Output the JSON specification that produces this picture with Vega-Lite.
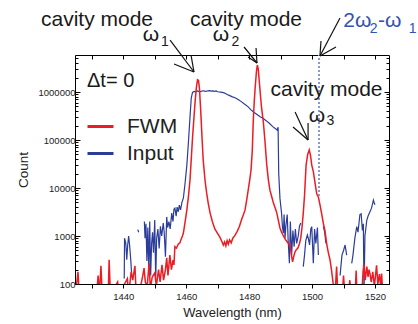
{
  "$schema": "https://vega.github.io/schema/vega-lite/v6.json",
  "width": 314,
  "height": 229,
  "autosize": {"type": "none"},
  "padding": {"left": 75, "top": 55, "right": 29, "bottom": 40},
  "background": "white",
  "config": {
    "view": {"stroke": null},
    "font": "Liberation Sans",
    "axis": {"domainColor": "#000", "domainWidth": 1, "tickColor": "#000", "tickWidth": 1, "labelFont": "Liberation Sans", "labelColor": "#222", "labelFontSize": 9.5, "titleFont": "Liberation Sans", "titleFontWeight": "normal", "titleColor": "#222", "grid": false, "labelOverlap": false}
  },
  "datasets": {
    "spectra": [
      {"series":"Input","wavelength":1440.3,"count":130},{"series":"Input","wavelength":1440.4,"count":900},{"series":"Input","wavelength":1440.8,"count":700},{"series":"Input","wavelength":1441.1,"count":320},{"series":"Input","wavelength":1441.4,"count":650},{"series":"Input","wavelength":1441.7,"count":1000},{"series":"Input","wavelength":1442.0,"count":650},{"series":"Input","wavelength":1442.4,"count":300},{"series":"Input","wavelength":1442.7,"count":140},
      {"series":"Input","wavelength":1443.6,"count":null},
      {"series":"Input","wavelength":1444.6,"count":1360},{"series":"Input","wavelength":1444.9,"count":1200},
      {"series":"Input","wavelength":1445.8,"count":null},
      {"series":"Input","wavelength":1446.7,"count":2000},{"series":"Input","wavelength":1446.9,"count":900},{"series":"Input","wavelength":1447.2,"count":1800},{"series":"Input","wavelength":1447.5,"count":300},{"series":"Input","wavelength":1447.8,"count":1500},{"series":"Input","wavelength":1448.1,"count":180},{"series":"Input","wavelength":1448.4,"count":2000},{"series":"Input","wavelength":1448.7,"count":150},{"series":"Input","wavelength":1449.0,"count":700},{"series":"Input","wavelength":1449.3,"count":1200},{"series":"Input","wavelength":1449.6,"count":450},{"series":"Input","wavelength":1450.0,"count":2150},{"series":"Input","wavelength":1450.3,"count":120},{"series":"Input","wavelength":1450.6,"count":900},{"series":"Input","wavelength":1451.0,"count":1400},{"series":"Input","wavelength":1451.4,"count":550},{"series":"Input","wavelength":1451.8,"count":1600},{"series":"Input","wavelength":1452.2,"count":1000},{"series":"Input","wavelength":1452.7,"count":1870},{"series":"Input","wavelength":1453.0,"count":1200},{"series":"Input","wavelength":1453.4,"count":370},{"series":"Input","wavelength":1453.8,"count":2500},{"series":"Input","wavelength":1454.1,"count":1500},{"series":"Input","wavelength":1454.5,"count":2000},{"series":"Input","wavelength":1454.9,"count":1400},{"series":"Input","wavelength":1455.4,"count":3000},{"series":"Input","wavelength":1455.8,"count":2000},{"series":"Input","wavelength":1456.1,"count":3600},{"series":"Input","wavelength":1456.4,"count":3800},{"series":"Input","wavelength":1456.8,"count":2600},{"series":"Input","wavelength":1457.1,"count":4000},{"series":"Input","wavelength":1457.5,"count":3200},{"series":"Input","wavelength":1457.8,"count":4400},{"series":"Input","wavelength":1458.2,"count":3500},{"series":"Input","wavelength":1458.6,"count":4900},{"series":"Input","wavelength":1459.1,"count":6200},{"series":"Input","wavelength":1459.6,"count":12000},{"series":"Input","wavelength":1460.2,"count":30000},{"series":"Input","wavelength":1460.7,"count":90000},{"series":"Input","wavelength":1461.2,"count":300000},{"series":"Input","wavelength":1461.6,"count":750000},{"series":"Input","wavelength":1462.0,"count":980000},{"series":"Input","wavelength":1462.5,"count":1030000},{"series":"Input","wavelength":1463.0,"count":1010000},{"series":"Input","wavelength":1463.5,"count":1050000},{"series":"Input","wavelength":1464.0,"count":1030000},{"series":"Input","wavelength":1464.5,"count":1020000},{"series":"Input","wavelength":1465.0,"count":1050000},{"series":"Input","wavelength":1465.5,"count":1060000},{"series":"Input","wavelength":1466.0,"count":1030000},{"series":"Input","wavelength":1466.5,"count":1040000},{"series":"Input","wavelength":1467.0,"count":1060000},{"series":"Input","wavelength":1467.5,"count":1070000},{"series":"Input","wavelength":1468.0,"count":1040000},{"series":"Input","wavelength":1468.5,"count":1050000},{"series":"Input","wavelength":1469.0,"count":1030000},{"series":"Input","wavelength":1469.5,"count":1050000},{"series":"Input","wavelength":1470.0,"count":1010000},{"series":"Input","wavelength":1470.5,"count":1000000},{"series":"Input","wavelength":1471.0,"count":990000},{"series":"Input","wavelength":1471.5,"count":980000},{"series":"Input","wavelength":1472.0,"count":960000},{"series":"Input","wavelength":1472.5,"count":930000},{"series":"Input","wavelength":1473.0,"count":890000},{"series":"Input","wavelength":1473.5,"count":860000},{"series":"Input","wavelength":1474.0,"count":830000},{"series":"Input","wavelength":1474.5,"count":800000},{"series":"Input","wavelength":1475.5,"count":760000},{"series":"Input","wavelength":1476.5,"count":700000},{"series":"Input","wavelength":1477.5,"count":630000},{"series":"Input","wavelength":1478.5,"count":560000},{"series":"Input","wavelength":1479.7,"count":490000},{"series":"Input","wavelength":1480.5,"count":430000},{"series":"Input","wavelength":1481.5,"count":380000},{"series":"Input","wavelength":1482.5,"count":340000},{"series":"Input","wavelength":1483.5,"count":305000},{"series":"Input","wavelength":1484.5,"count":280000},{"series":"Input","wavelength":1485.5,"count":250000},{"series":"Input","wavelength":1486.5,"count":220000},{"series":"Input","wavelength":1487.5,"count":190000},{"series":"Input","wavelength":1488.5,"count":170000},{"series":"Input","wavelength":1488.9,"count":160000},{"series":"Input","wavelength":1489.2,"count":185000},{"series":"Input","wavelength":1489.4,"count":20000},{"series":"Input","wavelength":1489.8,"count":6000},{"series":"Input","wavelength":1490.3,"count":3000},{"series":"Input","wavelength":1490.6,"count":1500},{"series":"Input","wavelength":1490.9,"count":1150},{"series":"Input","wavelength":1491.1,"count":2800},{"series":"Input","wavelength":1491.4,"count":900},{"series":"Input","wavelength":1491.7,"count":1700},{"series":"Input","wavelength":1492.1,"count":2800},{"series":"Input","wavelength":1492.4,"count":800},{"series":"Input","wavelength":1492.8,"count":270},{"series":"Input","wavelength":1493.1,"count":2000},{"series":"Input","wavelength":1493.5,"count":400},{"series":"Input","wavelength":1493.9,"count":1300},{"series":"Input","wavelength":1494.3,"count":600},{"series":"Input","wavelength":1494.7,"count":1400},{"series":"Input","wavelength":1495.1,"count":700},{"series":"Input","wavelength":1495.6,"count":1000},{"series":"Input","wavelength":1496.0,"count":1600},{"series":"Input","wavelength":1496.4,"count":1870},
      {"series":"Input","wavelength":1496.8,"count":null},
      {"series":"Input","wavelength":1497.2,"count":230},{"series":"Input","wavelength":1497.6,"count":400},{"series":"Input","wavelength":1498.0,"count":800},{"series":"Input","wavelength":1498.5,"count":1050},{"series":"Input","wavelength":1498.8,"count":900},{"series":"Input","wavelength":1499.2,"count":650},{"series":"Input","wavelength":1499.6,"count":1400},{"series":"Input","wavelength":1499.9,"count":1570},{"series":"Input","wavelength":1500.4,"count":270},{"series":"Input","wavelength":1500.8,"count":1400},{"series":"Input","wavelength":1501.2,"count":700},{"series":"Input","wavelength":1501.7,"count":1500},{"series":"Input","wavelength":1502.0,"count":400},
      {"series":"Input","wavelength":1502.8,"count":null},
      {"series":"Input","wavelength":1503.6,"count":1570},{"series":"Input","wavelength":1504.0,"count":1200},{"series":"Input","wavelength":1504.4,"count":700},
      {"series":"Input","wavelength":1506.5,"count":null},
      {"series":"Input","wavelength":1508.9,"count":150},{"series":"Input","wavelength":1509.5,"count":400},{"series":"Input","wavelength":1510.0,"count":500},{"series":"Input","wavelength":1510.5,"count":650},{"series":"Input","wavelength":1511.0,"count":400},
      {"series":"Input","wavelength":1511.8,"count":null},
      {"series":"Input","wavelength":1512.6,"count":270},{"series":"Input","wavelength":1513.0,"count":400},{"series":"Input","wavelength":1513.6,"count":900},{"series":"Input","wavelength":1514.2,"count":1570},{"series":"Input","wavelength":1514.6,"count":1200},{"series":"Input","wavelength":1515.2,"count":2800},{"series":"Input","wavelength":1515.6,"count":2900},{"series":"Input","wavelength":1516.0,"count":1300},{"series":"Input","wavelength":1516.3,"count":1800},{"series":"Input","wavelength":1516.5,"count":60},{"series":"Input","wavelength":1516.8,"count":1000},{"series":"Input","wavelength":1517.4,"count":2150},{"series":"Input","wavelength":1517.8,"count":2600},{"series":"Input","wavelength":1518.4,"count":3200},{"series":"Input","wavelength":1518.9,"count":3800},{"series":"Input","wavelength":1519.5,"count":5600},{"series":"Input","wavelength":1519.8,"count":4800},{"series":"Input","wavelength":1520.0,"count":4500},
      {"series":"FWM","wavelength":1424.8,"count":60},{"series":"FWM","wavelength":1425.6,"count":180},{"series":"FWM","wavelength":1426.0,"count":60},{"series":"FWM","wavelength":1431.5,"count":60},{"series":"FWM","wavelength":1432.0,"count":150},{"series":"FWM","wavelength":1432.4,"count":60},{"series":"FWM","wavelength":1432.9,"count":240},{"series":"FWM","wavelength":1433.3,"count":60},{"series":"FWM","wavelength":1435.2,"count":60},{"series":"FWM","wavelength":1435.5,"count":320},{"series":"FWM","wavelength":1435.9,"count":60},{"series":"FWM","wavelength":1438.2,"count":110},{"series":"FWM","wavelength":1438.6,"count":60},{"series":"FWM","wavelength":1441.3,"count":130},{"series":"FWM","wavelength":1441.7,"count":60},{"series":"FWM","wavelength":1442.5,"count":180},{"series":"FWM","wavelength":1443.0,"count":120},{"series":"FWM","wavelength":1443.7,"count":240},{"series":"FWM","wavelength":1444.1,"count":60},{"series":"FWM","wavelength":1445.5,"count":90},{"series":"FWM","wavelength":1446.2,"count":150},{"series":"FWM","wavelength":1446.6,"count":215},{"series":"FWM","wavelength":1447.0,"count":110},{"series":"FWM","wavelength":1447.6,"count":90},{"series":"FWM","wavelength":1448.2,"count":270},{"series":"FWM","wavelength":1448.6,"count":80},{"series":"FWM","wavelength":1449.2,"count":140},{"series":"FWM","wavelength":1450.0,"count":170},{"series":"FWM","wavelength":1450.5,"count":90},{"series":"FWM","wavelength":1451.2,"count":200},{"series":"FWM","wavelength":1451.7,"count":110},{"series":"FWM","wavelength":1452.3,"count":250},{"series":"FWM","wavelength":1452.8,"count":120},{"series":"FWM","wavelength":1453.4,"count":200},{"series":"FWM","wavelength":1453.8,"count":350},{"series":"FWM","wavelength":1454.2,"count":150},{"series":"FWM","wavelength":1454.8,"count":400},{"series":"FWM","wavelength":1455.3,"count":200},{"series":"FWM","wavelength":1455.8,"count":316},{"series":"FWM","wavelength":1456.1,"count":250},{"series":"FWM","wavelength":1456.4,"count":600},{"series":"FWM","wavelength":1456.9,"count":560},{"series":"FWM","wavelength":1457.5,"count":680},{"series":"FWM","wavelength":1458.0,"count":720},{"series":"FWM","wavelength":1458.3,"count":830},{"series":"FWM","wavelength":1458.8,"count":1000},{"series":"FWM","wavelength":1459.1,"count":1150},{"series":"FWM","wavelength":1459.6,"count":1870},{"series":"FWM","wavelength":1460.2,"count":3500},{"series":"FWM","wavelength":1460.7,"count":6600},{"series":"FWM","wavelength":1461.2,"count":14700},{"series":"FWM","wavelength":1461.6,"count":40000},{"series":"FWM","wavelength":1462.0,"count":110000},{"series":"FWM","wavelength":1462.4,"count":260000},{"series":"FWM","wavelength":1462.8,"count":600000},{"series":"FWM","wavelength":1463.2,"count":1200000},{"series":"FWM","wavelength":1463.6,"count":1800000},{"series":"FWM","wavelength":1463.9,"count":1750000},{"series":"FWM","wavelength":1464.2,"count":1200000},{"series":"FWM","wavelength":1464.6,"count":420000},{"series":"FWM","wavelength":1465.0,"count":120000},{"series":"FWM","wavelength":1465.4,"count":38000},{"series":"FWM","wavelength":1466.0,"count":14000},{"series":"FWM","wavelength":1466.5,"count":7800},{"series":"FWM","wavelength":1467.0,"count":4800},{"series":"FWM","wavelength":1467.6,"count":3000},{"series":"FWM","wavelength":1468.3,"count":2000},{"series":"FWM","wavelength":1469.1,"count":1400},{"series":"FWM","wavelength":1469.9,"count":1150},{"series":"FWM","wavelength":1470.7,"count":950},{"series":"FWM","wavelength":1471.3,"count":780},{"series":"FWM","wavelength":1471.8,"count":650},{"series":"FWM","wavelength":1472.2,"count":750},{"series":"FWM","wavelength":1472.6,"count":620},{"series":"FWM","wavelength":1473.0,"count":800},{"series":"FWM","wavelength":1473.4,"count":680},{"series":"FWM","wavelength":1473.8,"count":830},{"series":"FWM","wavelength":1474.3,"count":720},{"series":"FWM","wavelength":1474.8,"count":900},{"series":"FWM","wavelength":1475.5,"count":1030},{"series":"FWM","wavelength":1476.2,"count":1250},{"series":"FWM","wavelength":1476.9,"count":1570},{"series":"FWM","wavelength":1477.6,"count":2200},{"series":"FWM","wavelength":1478.2,"count":2800},{"series":"FWM","wavelength":1478.7,"count":3500},{"series":"FWM","wavelength":1479.2,"count":5500},{"series":"FWM","wavelength":1479.7,"count":9000},{"series":"FWM","wavelength":1480.2,"count":15000},{"series":"FWM","wavelength":1480.6,"count":23700},{"series":"FWM","wavelength":1481.0,"count":60000},{"series":"FWM","wavelength":1481.3,"count":240000},{"series":"FWM","wavelength":1481.6,"count":600000},{"series":"FWM","wavelength":1481.9,"count":1200000},{"series":"FWM","wavelength":1482.3,"count":2600000},{"series":"FWM","wavelength":1482.6,"count":3650000},{"series":"FWM","wavelength":1482.9,"count":3000000},{"series":"FWM","wavelength":1483.4,"count":1200000},{"series":"FWM","wavelength":1483.9,"count":500000},{"series":"FWM","wavelength":1484.5,"count":240000},{"series":"FWM","wavelength":1485.0,"count":100000},{"series":"FWM","wavelength":1485.6,"count":30000},{"series":"FWM","wavelength":1486.1,"count":15000},{"series":"FWM","wavelength":1486.6,"count":9000},{"series":"FWM","wavelength":1487.2,"count":6500},{"series":"FWM","wavelength":1487.7,"count":4900},{"series":"FWM","wavelength":1488.3,"count":3800},{"series":"FWM","wavelength":1488.8,"count":3000},{"series":"FWM","wavelength":1489.3,"count":2100},{"series":"FWM","wavelength":1489.8,"count":1470},{"series":"FWM","wavelength":1490.3,"count":1200},{"series":"FWM","wavelength":1490.9,"count":1000},{"series":"FWM","wavelength":1491.5,"count":850},{"series":"FWM","wavelength":1492.0,"count":770},{"series":"FWM","wavelength":1492.5,"count":700},{"series":"FWM","wavelength":1493.0,"count":650},{"series":"FWM","wavelength":1493.4,"count":420},{"series":"FWM","wavelength":1493.8,"count":290},{"series":"FWM","wavelength":1494.2,"count":380},{"series":"FWM","wavelength":1494.6,"count":470},{"series":"FWM","wavelength":1495.0,"count":520},{"series":"FWM","wavelength":1495.5,"count":560},{"series":"FWM","wavelength":1496.0,"count":700},{"series":"FWM","wavelength":1496.4,"count":900},{"series":"FWM","wavelength":1496.8,"count":1500},{"series":"FWM","wavelength":1497.2,"count":3000},{"series":"FWM","wavelength":1497.6,"count":7000},{"series":"FWM","wavelength":1498.1,"count":30000},{"series":"FWM","wavelength":1498.6,"count":50000},{"series":"FWM","wavelength":1499.1,"count":62000},{"series":"FWM","wavelength":1499.5,"count":48000},{"series":"FWM","wavelength":1499.9,"count":30000},{"series":"FWM","wavelength":1500.4,"count":22000},{"series":"FWM","wavelength":1501.0,"count":12000},{"series":"FWM","wavelength":1501.5,"count":7500},{"series":"FWM","wavelength":1502.0,"count":6500},{"series":"FWM","wavelength":1502.5,"count":4500},{"series":"FWM","wavelength":1503.1,"count":2800},{"series":"FWM","wavelength":1503.6,"count":1800},{"series":"FWM","wavelength":1504.1,"count":1300},{"series":"FWM","wavelength":1504.7,"count":650},{"series":"FWM","wavelength":1505.2,"count":440},{"series":"FWM","wavelength":1505.7,"count":320},{"series":"FWM","wavelength":1506.2,"count":190},{"series":"FWM","wavelength":1506.8,"count":90},{"series":"FWM","wavelength":1507.3,"count":60},{"series":"FWM","wavelength":1507.8,"count":230},{"series":"FWM","wavelength":1508.2,"count":60},{"series":"FWM","wavelength":1509.6,"count":60},{"series":"FWM","wavelength":1510.0,"count":150},{"series":"FWM","wavelength":1510.4,"count":60},{"series":"FWM","wavelength":1511.5,"count":60},{"series":"FWM","wavelength":1512.0,"count":120},{"series":"FWM","wavelength":1512.4,"count":60},{"series":"FWM","wavelength":1513.7,"count":60},{"series":"FWM","wavelength":1514.0,"count":190},{"series":"FWM","wavelength":1514.3,"count":60},{"series":"FWM","wavelength":1515.8,"count":60},{"series":"FWM","wavelength":1516.2,"count":180},{"series":"FWM","wavelength":1516.5,"count":260},{"series":"FWM","wavelength":1516.9,"count":120},{"series":"FWM","wavelength":1517.4,"count":230},{"series":"FWM","wavelength":1517.8,"count":140},{"series":"FWM","wavelength":1518.1,"count":200},{"series":"FWM","wavelength":1518.4,"count":165},{"series":"FWM","wavelength":1518.8,"count":110},{"series":"FWM","wavelength":1519.3,"count":180},{"series":"FWM","wavelength":1519.8,"count":90},{"series":"FWM","wavelength":1520.5,"count":245},{"series":"FWM","wavelength":1520.9,"count":100},{"series":"FWM","wavelength":1521.4,"count":160},{"series":"FWM","wavelength":1521.8,"count":90},{"series":"FWM","wavelength":1522.1,"count":165},{"series":"FWM","wavelength":1522.5,"count":60}
    ],
    "labels": [
      {"kind":"main","text":"cavity mode","wavelength":1431.64,"count":23700000},
      {"kind":"main","text":"cavity mode","wavelength":1479.0,"count":23700000},
      {"kind":"main","text":"cavity mode","wavelength":1504.59,"count":845000},
      {"kind":"main","text":"ω","wavelength":1448.8,"count":11500000},
      {"kind":"main","text":"ω","wavelength":1471.06,"count":11500000},
      {"kind":"main","text":"ω","wavelength":1501.57,"count":237000},
      {"kind":"sub","text":"1","wavelength":1453.25,"count":9200000},
      {"kind":"sub","text":"2","wavelength":1475.66,"count":9200000},
      {"kind":"sub","text":"3","wavelength":1505.86,"count":205000},
      {"kind":"left","text":"Δt= 0","wavelength":1428.46,"count":1250000},
      {"kind":"blue","text":"2ω","wavelength":1509.93,"count":22600000},
      {"kind":"blue","text":"-ω","wavelength":1520.96,"count":22600000},
      {"kind":"bluesub","text":"2","wavelength":1519.53,"count":16900000},
      {"kind":"bluesub","text":"1","wavelength":1531.93,"count":16900000}
    ],
    "arrows": [
      {"wavelength":1454.88,"count":12100000,"wavelength2":1462.47,"count2":2610000},
      {"wavelength":1456.12,"count":3830000,"wavelength2":1462.47,"count2":2610000},
      {"wavelength":1461.52,"count":5900000,"wavelength2":1462.47,"count2":2610000},
      {"wavelength":1478.38,"count":8660000,"wavelength2":1482.5,"count2":4020000},
      {"wavelength":1479.64,"count":5360000,"wavelength2":1482.5,"count2":4020000},
      {"wavelength":1482.18,"count":8250000,"wavelength2":1482.5,"count2":4020000},
      {"wavelength":1508.87,"count":34800000,"wavelength2":1502.51,"count2":5620000},
      {"wavelength":1507.6,"count":8660000,"wavelength2":1502.51,"count2":5620000},
      {"wavelength":1502.83,"count":11550000,"wavelength2":1502.51,"count2":5620000},
      {"wavelength":1494.6,"count":383000,"wavelength2":1498.73,"count2":100000},
      {"wavelength":1493.94,"count":187000,"wavelength2":1498.73,"count2":100000},
      {"wavelength":1498.73,"count":226000,"wavelength2":1498.73,"count2":100000}
    ],
    "marker": [
      {"wavelength":1502.2,"count":6800,"count2":5900000}
    ]
  },
  "layer": [
    {
      "layer": [
        {
          "data": {"name": "spectra"},
          "transform": [{"filter": "datum.series === 'Input'"}],
          "mark": {"type": "line", "clip": true, "strokeWidth": 1.2, "invalid": "break-paths-filter-domains"},
          "encoding": {
            "x": {"field": "wavelength", "type": "quantitative", "scale": {"domain": [1424.65, 1524.45], "nice": false, "zero": false},
              "axis": {"orient": "bottom", "values": [1440,1460,1480,1500,1520], "format": "d", "tickSize": 4, "labelPadding": 3, "labelFlush": false, "title": "Wavelength (nm)", "titleFontSize": 13, "titlePadding": 6}},
            "y": {"field": "count", "type": "quantitative", "scale": {"type": "log", "domain": [100, 5900000], "nice": false},
              "axis": {"orient": "left", "values": [100,200,300,400,500,600,700,800,900,1000,2000,3000,4000,5000,6000,7000,8000,9000,10000,20000,30000,40000,50000,60000,70000,80000,90000,100000,200000,300000,400000,500000,600000,700000,800000,900000,1000000,2000000,3000000,4000000,5000000], "format": "d", "labelExpr": "indexof([100,1000,10000,100000,1000000], datum.value) >= 0 ? datum.label : ''", "labelOverlap": false, "tickSize": {"condition": {"test": "indexof([100,1000,10000,100000,1000000], datum.value) >= 0", "value": -5}, "value": -3}, "labelPadding": 5, "title": "Count", "titleFontSize": 13.5, "titlePadding": 8}},
            "color": {"field": "series", "type": "nominal", "scale": {"domain": ["FWM", "Input"], "range": ["#ec1c24", "#2b3d98"]},
              "legend": {"orient": "none", "legendX": 11, "legendY": 57, "title": null, "symbolType": "stroke", "symbolStrokeWidth": 3, "symbolSize": 676, "labelFontSize": 21, "labelFont": "Liberation Sans", "labelColor": "#222", "labelOffset": 12, "rowPadding": 2, "padding": 0}}
          }
        },
        {
          "data": {"name": "spectra"},
          "transform": [{"filter": "datum.series === 'FWM'"}],
          "mark": {"type": "line", "clip": true, "strokeWidth": 1.5, "invalid": "break-paths-filter-domains"},
          "encoding": {
            "x": {"field": "wavelength", "type": "quantitative"},
            "y": {"field": "count", "type": "quantitative"},
            "color": {"field": "series", "type": "nominal"}
          }
        },
        {
          "data": {"name": "marker"},
          "mark": {"type": "rule", "color": "#8a99d6", "strokeWidth": 2, "strokeDash": [2, 2]},
          "encoding": {
            "x": {"field": "wavelength", "type": "quantitative"},
            "y": {"field": "count", "type": "quantitative"},
            "y2": {"field": "count2"}
          }
        },
        {
          "data": {"name": "arrows"},
          "mark": {"type": "rule", "color": "#111", "strokeWidth": 1.2, "clip": false},
          "encoding": {
            "x": {"field": "wavelength", "type": "quantitative"},
            "y": {"field": "count", "type": "quantitative"},
            "x2": {"field": "wavelength2"},
            "y2": {"field": "count2"}
          }
        },
        {
          "data": {"name": "labels"},
          "transform": [{"filter": "datum.kind === 'main'"}],
          "mark": {"type": "text", "fontSize": 21, "font": "Liberation Sans", "color": "#1a1a1a", "align": "center", "baseline": "alphabetic"},
          "encoding": {"x": {"field": "wavelength", "type": "quantitative"}, "y": {"field": "count", "type": "quantitative"}, "text": {"field": "text"}}
        },
        {
          "data": {"name": "labels"},
          "transform": [{"filter": "datum.kind === 'sub'"}],
          "mark": {"type": "text", "fontSize": 14, "font": "Liberation Sans", "color": "#1a1a1a", "align": "center", "baseline": "alphabetic"},
          "encoding": {"x": {"field": "wavelength", "type": "quantitative"}, "y": {"field": "count", "type": "quantitative"}, "text": {"field": "text"}}
        },
        {
          "data": {"name": "labels"},
          "transform": [{"filter": "datum.kind === 'left'"}],
          "mark": {"type": "text", "fontSize": 20, "font": "Liberation Sans", "color": "#1a1a1a", "align": "left", "baseline": "alphabetic"},
          "encoding": {"x": {"field": "wavelength", "type": "quantitative"}, "y": {"field": "count", "type": "quantitative"}, "text": {"field": "text"}}
        },
        {
          "data": {"name": "labels"},
          "transform": [{"filter": "datum.kind === 'blue'"}],
          "mark": {"type": "text", "fontSize": 21, "font": "Liberation Sans", "color": "#3552b0", "align": "left", "baseline": "alphabetic"},
          "encoding": {"x": {"field": "wavelength", "type": "quantitative"}, "y": {"field": "count", "type": "quantitative"}, "text": {"field": "text"}}
        },
        {
          "data": {"name": "labels"},
          "transform": [{"filter": "datum.kind === 'bluesub'"}],
          "mark": {"type": "text", "fontSize": 14, "font": "Liberation Sans", "color": "#3552b0", "align": "center", "baseline": "alphabetic"},
          "encoding": {"x": {"field": "wavelength", "type": "quantitative"}, "y": {"field": "count", "type": "quantitative"}, "text": {"field": "text"}}
        }
      ]
    },
    {
      "data": {"name": "spectra"},
      "mark": {"type": "point", "opacity": 0},
      "encoding": {
        "x": {"field": "wavelength", "type": "quantitative", "scale": {"domain": [1424.65, 1524.45], "nice": false, "zero": false},
          "axis": {"orient": "top", "values": [1430,1440,1450,1460,1470,1480,1490,1500,1510,1520], "labels": false, "tickSize": -4, "title": null}},
        "y": {"field": "count", "type": "quantitative", "scale": {"type": "log", "domain": [100, 5900000], "nice": false},
          "axis": {"orient": "right", "values": [100,200,300,400,500,600,700,800,900,1000,2000,3000,4000,5000,6000,7000,8000,9000,10000,20000,30000,40000,50000,60000,70000,80000,90000,100000,200000,300000,400000,500000,600000,700000,800000,900000,1000000,2000000,3000000,4000000,5000000], "labels": false, "tickSize": {"condition": {"test": "indexof([100,1000,10000,100000,1000000], datum.value) >= 0", "value": -5}, "value": -3}, "title": null}}
      }
    },
    {
      "data": {"name": "spectra"},
      "mark": {"type": "point", "opacity": 0},
      "encoding": {
        "x": {"field": "wavelength", "type": "quantitative", "scale": {"domain": [1424.65, 1524.45], "nice": false, "zero": false},
          "axis": {"orient": "bottom", "values": [1430,1450,1470,1490,1510], "labels": false, "tickSize": 4, "title": null}}
      }
    }
  ],
  "resolve": {"scale": {"x": "independent", "y": "independent"}}
}
